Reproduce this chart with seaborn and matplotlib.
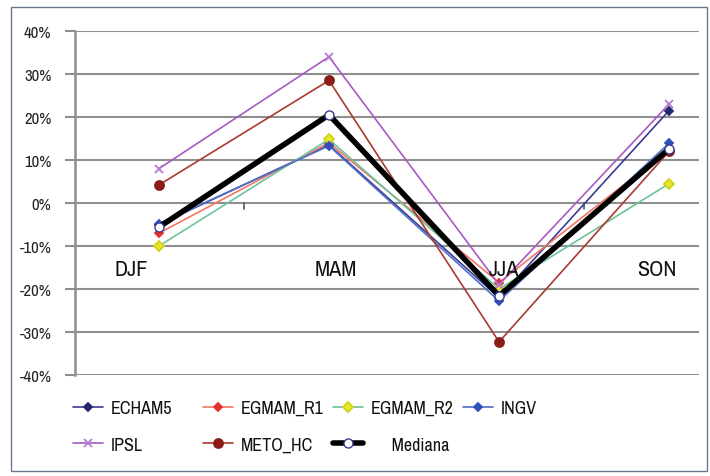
import matplotlib
matplotlib.use("Agg")
import matplotlib.pyplot as plt
from matplotlib.patches import Rectangle
from matplotlib.ticker import FuncFormatter
from matplotlib import font_manager
import seaborn as sns

# Seasonal change (%) per climate model
seasons = ["DJF", "MAM", "JJA", "SON"]
echam5 = [-5.0, 13.5, -22.0, 21.5]
egmam_r1 = [-7.0, 14.0, -18.5, 12.5]
egmam_r2 = [-10.0, 14.8, -20.0, 4.5]
ingv = [-4.8, 13.3, -22.8, 13.9]
ipsl = [8.0, 34.0, -19.0, 23.0]
meto_hc = [4.2, 28.5, -32.3, 12.0]
mediana = [-5.6, 20.5, -21.6, 12.6]

y_ticks = [-40, -30, -20, -10, 0, 10, 20, 30, 40]

sns.set_theme(style="white")

# pick a narrow sans face if one is installed
narrow = None
for f in font_manager.fontManager.ttflist:
    if ("Narrow" in f.name or "Condensed" in f.name) and narrow is None:
        narrow = (f.name, "normal")
if narrow is None:
    for f in font_manager.fontManager.ttflist:
        if f.name == "DejaVu Sans" and str(f.stretch) in ("condensed", "semi-condensed", "75", "87"):
            narrow = ("DejaVu Sans", "condensed")
            break
if narrow is None:
    narrow = ("Liberation Sans", "normal")
fam, stretch = narrow
plt.rcParams["font.family"] = [fam, "DejaVu Sans"]

cat_size = 16 if fam != "Liberation Sans" else 13
leg_size = 13 if fam != "Liberation Sans" else 11
tick_size = 12 if fam != "Liberation Sans" else 10

W, H = 710, 477
fig = plt.figure(figsize=(W / 100, H / 100), dpi=100)
ax = fig.add_axes([75 / W, 1 - 376 / H, 624 / W, 344 / H])

x = list(range(len(seasons)))
series = [
    ("ECHAM5", echam5, "#3a3c94", "D", "#23256e", "#23256e", 4.5),
    ("EGMAM_R1", egmam_r1, "#f27565", "D", "#e2302a", "#e2302a", 4.5),
    ("EGMAM_R2", egmam_r2, "#6dc39a", "D", "#e6e62a", "#d2d21a", 5),
    ("INGV", ingv, "#4f6fc8", "D", "#2f50b8", "#2f50b8", 4.5),
    ("IPSL", ipsl, "#a65ac2", "x", "#b37ad0", "#b37ad0", 6),
    ("METO_HC", meto_hc, "#aa3a2e", "o", "#8a1c1a", "#8a1c1a", 6.5),
]

for name, vals, lc, mk, mfc, mec, ms in series:
    sns.lineplot(x=x, y=vals, ax=ax, color=lc, linewidth=1.2, marker=mk,
                 markersize=ms, markerfacecolor=mfc, markeredgecolor=mec,
                 markeredgewidth=1.3, label=name, zorder=3)

sns.lineplot(x=x, y=mediana, ax=ax, color="black", linewidth=4.0, marker="o",
             markersize=6.5, markerfacecolor="white", markeredgecolor="#3a3c94",
             markeredgewidth=1.0, label="     Mediana", zorder=4)

ax.set_xlim(-0.494, 3.176)
ax.set_ylim(-40, 40)
ax.set_yticks(y_ticks)
ax.yaxis.set_major_formatter(FuncFormatter(lambda v, p: f"{int(v)}%"))
ax.set_xticks([])
ax.grid(axis="y", color="#8f8f8f", linewidth=1.5)
ax.set_axisbelow(True)
for s in ["top", "right", "bottom"]:
    ax.spines[s].set_visible(False)
ax.spines["left"].set_color("#8f8f8f")
ax.spines["left"].set_linewidth(1.8)
ax.tick_params(axis="y", left=True, length=7, width=1.5, color="#8f8f8f",
               pad=10, labelsize=tick_size, labelcolor="#222222")
for lab in ax.get_yticklabels():
    lab.set_fontstretch(stretch)

# category axis ticks on the 0% line
for xt in [0.5, 1.5, 2.5]:
    ax.plot([xt, xt], [0, -1.4], color="#555555", linewidth=1.2, zorder=2)

# category labels
label_x = [-0.165, 1.04, 2.03, 2.93]
for lx, s in zip(label_x, seasons):
    ax.text(lx, -15.3, s, ha="center", va="center", fontsize=cat_size,
            color="#111111", fontstretch=stretch)

# legend: four columns, filled row by row
handles, labels = ax.get_legend_handles_labels()
if ax.get_legend():
    ax.get_legend().remove()
columns = [[0, 4], [1, 5], [2, 6], [3]]
col_x = [73, 203, 333, 463]
for cx, idx in zip(col_x, columns):
    lg = fig.legend([handles[i] for i in idx], [labels[i] for i in idx],
                    loc="upper left", bbox_to_anchor=(cx / W, 1 - 401 / H),
                    frameon=False, handlelength=1.65, handletextpad=0.45,
                    labelspacing=1.15, borderpad=0, borderaxespad=0,
                    prop={"size": leg_size, "stretch": stretch})
    for t in lg.get_texts():
        t.set_color("#111111")

fig.add_artist(Rectangle((11 / W, 1 - 472 / H), 696 / W, 464 / H,
                         transform=fig.transFigure, fill=False,
                         edgecolor="#6a7890", linewidth=1.0))

fig.savefig("out.png", dpi=100)
